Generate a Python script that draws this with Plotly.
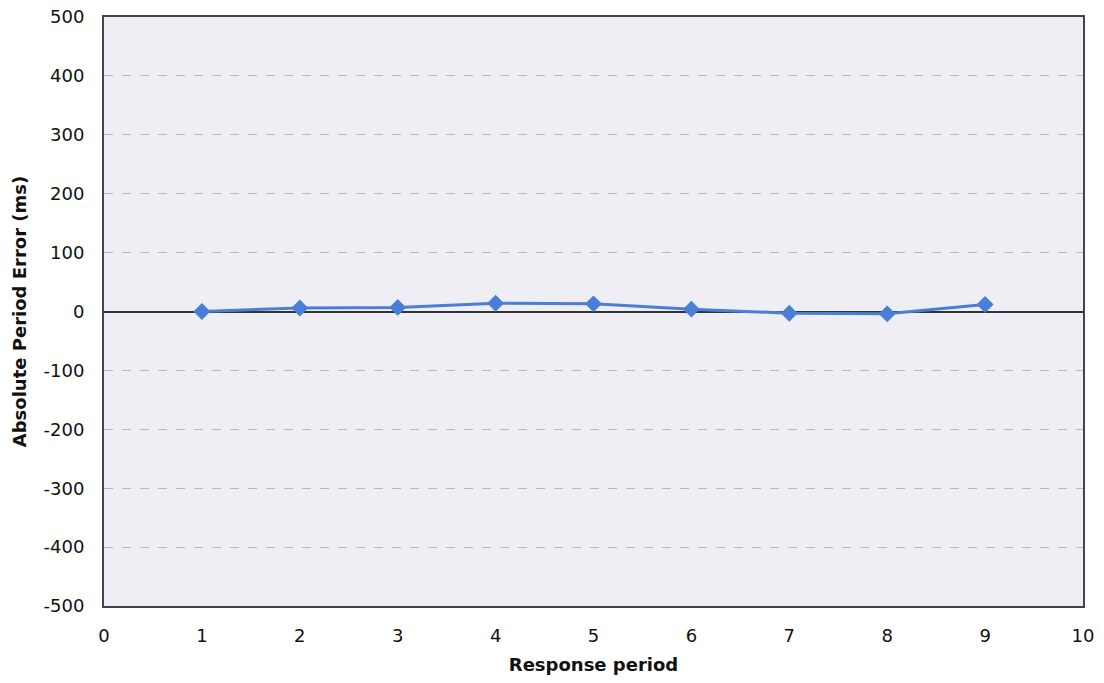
import plotly.graph_objects as go

periods = [1, 2, 3, 4, 5, 6, 7, 8, 9]
errors = [0, 6, 7, 14, 13, 4, -3, -4, 12]
y_ticks = [-500, -400, -300, -200, -100, 0, 100, 200, 300, 400, 500]
y_labels = ["-500", "-400", "-300", "-200", "-100", "0", "100", "200", "300", "400", "500"]
x_ticks = [0, 1, 2, 3, 4, 5, 6, 7, 8, 9, 10]

fig = go.Figure()
fig.add_trace(go.Scatter(
    x=periods, y=errors, mode="lines+markers",
    line=dict(color="#4a7fd8", width=3),
    marker=dict(symbol="diamond", size=13, color="#4a7fd8"),
    showlegend=False,
))

font = "DejaVu Sans, Verdana, sans-serif"
fig.update_layout(
    width=1104, height=683,
    margin=dict(l=104, r=21, t=17, b=77),
    paper_bgcolor="white",
    plot_bgcolor="#eeeef4",
    font=dict(family=font, size=18, color="#111"),
    xaxis=dict(
        range=[0, 10], tickvals=x_ticks, showgrid=False, zeroline=False,
        showline=True, linecolor="#444", linewidth=2, mirror=True,
        ticks="", ticklabelstandoff=12, automargin=False,
        title=dict(text="<b>Response period</b>", font=dict(size=18), standoff=14),
    ),
    yaxis=dict(
        range=[-500, 500], tickvals=y_ticks, ticktext=y_labels, showgrid=True,
        gridcolor="#b8b8c0", griddash="dash", gridwidth=1,
        zeroline=True, zerolinecolor="#333", zerolinewidth=2,
        showline=True, linecolor="#444", linewidth=2, mirror=True,
        ticks="", ticklabelstandoff=14, automargin=False,
        title=dict(text="<b>Absolute Period Error (ms)</b>", font=dict(size=18), standoff=12),
    ),
)
fig.write_html("out.html")
